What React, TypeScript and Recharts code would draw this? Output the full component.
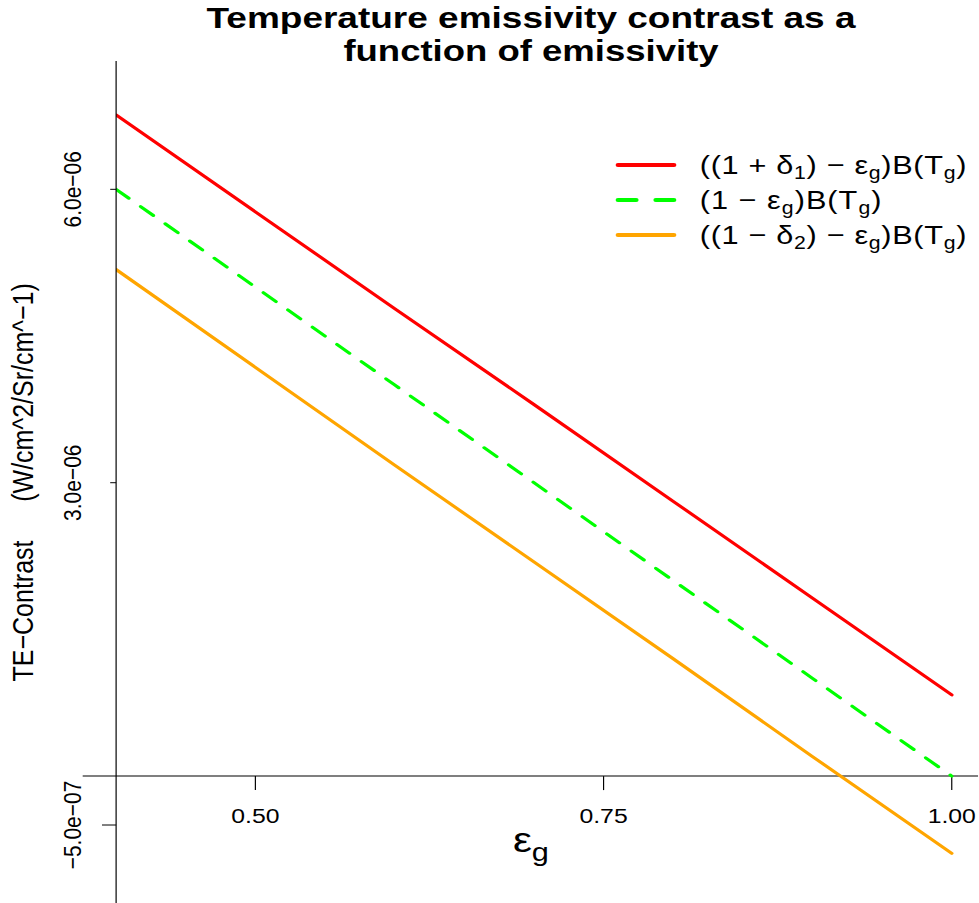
import React from 'react';
import { LineChart, Line, XAxis, YAxis, ReferenceLine, Legend } from 'recharts';

// emissivity on x, contrast in W/cm^2/Sr/cm^-1 on y
const emissivity = [0.4, 0.5, 0.6, 0.7, 0.8, 0.9, 1.0];
const contrastPlus = [6.76e-6, 5.77e-6, 4.78e-6, 3.8e-6, 2.81e-6, 1.82e-6, 0.83e-6];
const contrastNominal = [6.0e-6, 5.0e-6, 4.0e-6, 3.0e-6, 2.0e-6, 1.0e-6, 0];
const contrastMinus = [5.18e-6, 4.18e-6, 3.18e-6, 2.19e-6, 1.2e-6, 0.2e-6, -0.79e-6];

const xTicks = [0.5, 0.75, 1.0];
const xTickLabels = ['0.50', '0.75', '1.00'];
const yTicks = [-5e-7, 3e-6, 6e-6];
const yTickLabels = ['\u22125.0e\u221207', '3.0e\u221206', '6.0e\u221206'];

const titleLines = ['Temperature emissivity contrast as a', 'function of emissivity'];
const yLabelParts = ['TE\u2212Contrast', '(W/cm^2/Sr/cm^\u22121)'];

type Seg = { t: string; sub?: boolean };
const xLabel: Seg[] = [{ t: '\u03b5' }, { t: 'g', sub: true }];

const seriesKeys = ['plus', 'nominal', 'minus'];
const seriesColors = ['#ff0000', '#00ff00', '#ffa500'];
const seriesLabels: Seg[][] = [
  [{ t: '((1 + \u03b4' }, { t: '1', sub: true }, { t: ') \u2212 \u03b5' }, { t: 'g', sub: true }, { t: ')B(T' }, { t: 'g', sub: true }, { t: ')' }],
  [{ t: '(1 \u2212 \u03b5' }, { t: 'g', sub: true }, { t: ')B(T' }, { t: 'g', sub: true }, { t: ')' }],
  [{ t: '((1 \u2212 \u03b4' }, { t: '2', sub: true }, { t: ') \u2212 \u03b5' }, { t: 'g', sub: true }, { t: ')B(T' }, { t: 'g', sub: true }, { t: ')' }],
];

const data = emissivity.map((x, i) => ({
  x,
  plus: contrastPlus[i],
  nominal: contrastNominal[i],
  minus: contrastMinus[i],
}));

// the reference is stretched horizontally, so draw narrower and scale up
const SX = 1.18;
const W = 829;
const H = 903;
const AXIS_W = 98.4;
const X_DOMAIN = [0.4, 1.019];
const Y_DOMAIN = [-1.2975e-6, 7.312e-6];
const X_TICK_LEN = 1.43e-7;
const FONT = '"Liberation Sans", Arial, Helvetica, sans-serif';

const lineDash = [undefined, '14 13', undefined];
const legendDash = [undefined, '15.5 16.5', undefined];
const legendTextWidth = [226, 154, 226];
const titleWidth = [550, 318];

const renderSegs = (segs: Seg[], subSize: number, shift: number) => {
  let inSub = false;
  return segs.map((s, i) => {
    let dy = 0;
    if (s.sub && !inSub) dy = shift;
    if (!s.sub && inSub) dy = -shift;
    inSub = !!s.sub;
    return (
      <tspan key={i} dy={dy} fontSize={s.sub ? subSize : undefined}>
        {s.t}
      </tspan>
    );
  });
};

const YTick = (props: any) => {
  const { x, y, payload } = props;
  const i = yTicks.indexOf(payload.value);
  const len = payload.value < 0 ? 12 : 5;
  const bx = x - 29.7;
  return (
    <g>
      <line x1={x - len} y1={y} x2={x} y2={y} stroke="#000" />
      <text
        x={bx}
        y={y}
        transform={`rotate(-90 ${bx} ${y})`}
        textAnchor="middle"
        fontSize={21}
        fill="#000"
      >
        {yTickLabels[i]}
      </text>
    </g>
  );
};

const renderLegend = (props: any) => {
  const payload = props.payload || [];
  return (
    <svg width={330} height={120} style={{ overflow: 'visible' }}>
      {payload.map((entry: any) => {
        const k = seriesKeys.indexOf(entry.dataKey);
        if (k < 0) return null;
        const cy = 25 + k * 35;
        return (
          <g key={entry.dataKey}>
            <line
              x1={8.7}
              x2={56.2}
              y1={cy}
              y2={cy}
              stroke={seriesColors[k]}
              strokeWidth={4}
              strokeDasharray={legendDash[k]}
              strokeLinecap="round"
            />
            <text
              x={78}
              y={cy + 9.5}
              fontSize={26}
              fill="#000"
              textLength={legendTextWidth[k]}
              lengthAdjust="spacing"
            >
              {renderSegs(seriesLabels[k], 18, 5)}
            </text>
          </g>
        );
      })}
    </svg>
  );
};

export default function App() {
  return (
    <div style={{ position: 'fixed', left: 0, top: 0, width: 979, height: 903, overflow: 'hidden', background: '#fff' }}>
      <div
        style={{
          position: 'absolute',
          left: 0,
          top: 0,
          width: W,
          height: H,
          transform: `scaleX(${SX})`,
          transformOrigin: '0 0',
          fontFamily: FONT,
        }}
      >
        <LineChart width={W} height={H} data={data} margin={{ top: 61, right: 0, bottom: 0, left: 0 }}>
          <XAxis type="number" dataKey="x" domain={X_DOMAIN} allowDataOverflow hide />
          <YAxis
            type="number"
            domain={Y_DOMAIN}
            allowDataOverflow
            ticks={yTicks}
            interval={0}
            width={AXIS_W}
            tickSize={0}
            tickMargin={0}
            tickLine={false}
            axisLine={{ stroke: '#000' }}
            tick={<YTick />}
          />
          <ReferenceLine
            segment={[{ x: 0.376, y: 0 }, { x: X_DOMAIN[1], y: 0 }]}
            stroke="#000"
            ifOverflow="visible"
          />
          {xTicks.map((v, i) => (
            <ReferenceLine
              key={v}
              segment={[{ x: v, y: 0 }, { x: v, y: -X_TICK_LEN }]}
              stroke="#000"
              ifOverflow="visible"
              label={{ value: xTickLabels[i], position: 'bottom', offset: 18, fill: '#000', fontSize: 21 }}
            />
          ))}
          {seriesKeys.map((k, i) => (
            <Line
              key={k}
              type="linear"
              dataKey={k}
              stroke={seriesColors[i]}
              strokeWidth={3}
              strokeDasharray={lineDash[i]}
              strokeLinecap="round"
              dot={false}
              activeDot={false}
              isAnimationActive={false}
            />
          ))}
          <Legend
            layout="vertical"
            align="center"
            verticalAlign="middle"
            width={330}
            content={renderLegend}
            wrapperStyle={{ left: 515, top: 140, width: 330 }}
          />
        </LineChart>
        <svg width={W} height={H} style={{ position: 'absolute', left: 0, top: 0, pointerEvents: 'none' }}>
          {titleLines.map((t, i) => (
            <text
              key={t}
              x={450}
              y={28 + i * 33}
              textAnchor="middle"
              fontSize={30}
              fontWeight="bold"
              fill="#000"
              textLength={titleWidth[i]}
              lengthAdjust="spacingAndGlyphs"
            >
              {t}
            </text>
          ))}
          <text x={28} y={611} transform="rotate(-90 28 611)" textAnchor="middle" fontSize={25} fill="#000">
            {yLabelParts[0]}
          </text>
          <text x={28} y={392.5} transform="rotate(-90 28 392.5)" textAnchor="middle" fontSize={25} fill="#000">
            {yLabelParts[1]}
          </text>
          <text x={434.7} y={852} fontSize={36} fill="#000">
            {renderSegs(xLabel, 26, 9)}
          </text>
        </svg>
      </div>
    </div>
  );
}
